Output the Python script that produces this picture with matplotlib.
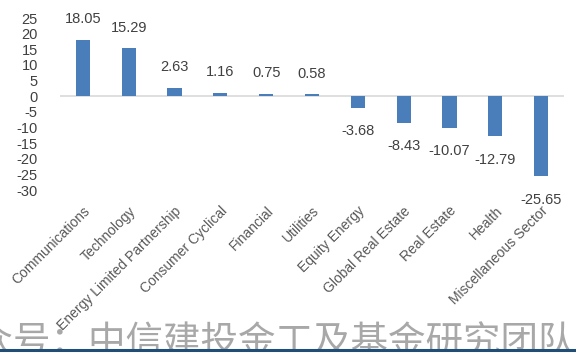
import numpy as np
import matplotlib.pyplot as plt
from matplotlib.patches import Rectangle

plt.rcParams['font.family'] = ['Liberation Sans', 'DejaVu Sans']

sectors = ["Communications", "Technology", "Energy Limited Partnership",
           "Consumer Cyclical", "Financial", "Utilities", "Equity Energy",
           "Global Real Estate", "Real Estate", "Health", "Miscellaneous Sector"]
returns = [18.05, 15.29, 2.63, 1.16, 0.75, 0.58, -3.68, -8.43, -10.07, -12.79, -25.65]
yticks = list(range(25, -35, -5))

fig = plt.figure(figsize=(5.76, 3.54), dpi=100)
ax = fig.add_axes([60/576, 1 - 190/354, 504/576, 172/354])

x = np.arange(len(sectors))
ax.bar(x, returns, width=0.31, color="#4A7EBB", zorder=2)
ax.axhline(0, color="#d9d9d9", lw=1.2, zorder=1)

for xi, v in zip(x, returns):
    off = 15 if v >= 0 else -17
    ax.annotate(f"{v:.2f}", (xi, v), xytext=(0, off), textcoords="offset points",
                ha="center", va="center", fontsize=10.5, color="#404040")

ax.set_xlim(-0.5, len(sectors) - 0.5)
ax.set_ylim(-30, 25)
ax.set_yticks(yticks)
ax.set_yticklabels([str(t) for t in yticks], fontsize=10.5, color="#404040")
ax.set_xticks(x)
ax.set_xticklabels(sectors, rotation=45, ha="right", rotation_mode="anchor",
                   fontsize=10, color="#595959")
ax.tick_params(axis="y", length=0, pad=16)
ax.tick_params(axis="x", length=0, pad=10)
for s in ax.spines.values():
    s.set_visible(False)

# watermark, cut off by the bottom band
fig.text(-62/576, 1/354, "公众号：中信建投金工及基金研究团队", fontsize=27,
         color="#a8a8a8", ha="left", va="baseline", zorder=1,
         family=["Noto Sans CJK SC", "DejaVu Sans"])
fig.add_artist(Rectangle((0, 0), 1, 5/354, transform=fig.transFigure,
                         facecolor="white", edgecolor="none", zorder=3))
fig.add_artist(plt.Line2D([0, 1], [4.5/354, 4.5/354], color="#1F4E79", lw=2.2,
                          transform=fig.transFigure, zorder=4))

fig.savefig("out.png", dpi=100)
